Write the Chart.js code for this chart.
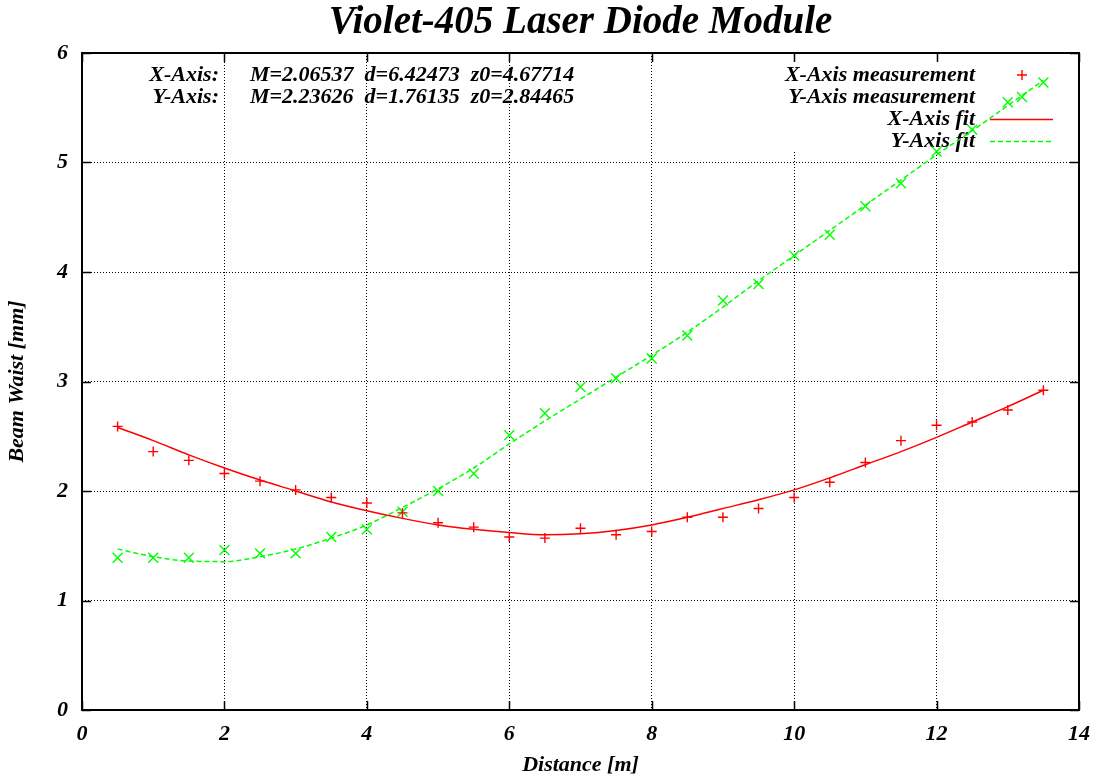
<!DOCTYPE html>
<html>
<head>
<meta charset="utf-8">
<title>Violet-405 Laser Diode Module</title>
<script src="https://cdn.jsdelivr.net/npm/chart.js@4.4.1/dist/chart.umd.min.js"></script>
<style>
  html, body { margin: 0; padding: 0; background: #fff; }
  #wrap { width: 1101px; height: 780px; }
</style>
</head>
<body>
<div id="wrap"><canvas id="beamChart" width="1101" height="780"></canvas></div>
<script>
// measured distances [m]
const distances = [0.5, 1, 1.5, 2, 2.5, 3, 3.5, 4, 4.5, 5, 5.5, 6, 6.5, 7, 7.5, 8, 8.5, 9, 9.5, 10, 10.5, 11, 11.5, 12, 12.5, 13, 13.5];
// beam waist [mm]
const xAxisMeasured = [2.59, 2.36, 2.28, 2.16, 2.09, 2.01, 1.94, 1.89, 1.80, 1.71, 1.67, 1.58, 1.57, 1.66, 1.60, 1.63, 1.76, 1.76, 1.84, 1.94, 2.08, 2.26, 2.46, 2.60, 2.63, 2.74, 2.92];
const yAxisMeasured = [1.39, 1.39, 1.39, 1.46, 1.43, 1.43, 1.58, 1.65, 1.81, 2.00, 2.16, 2.51, 2.71, 2.95, 3.03, 3.21, 3.42, 3.74, 3.89, 4.15, 4.34, 4.60, 4.81, 5.10, 5.30, 5.55, 5.73];

// fit curves
const fitDistances = [0.5, 1, 1.5, 2, 2.5, 3, 3.5, 4, 4.5, 5, 5.5, 6, 6.5, 7, 7.5, 8, 8.5, 9, 9.5, 10, 10.5, 11, 11.5, 12, 12.5, 13, 13.5];
const xAxisFit = [2.58, 2.46, 2.33, 2.21, 2.10, 2.00, 1.90, 1.82, 1.75, 1.69, 1.65, 1.62, 1.60, 1.61, 1.64, 1.69, 1.76, 1.84, 1.92, 2.01, 2.12, 2.24, 2.36, 2.49, 2.63, 2.77, 2.92];
const yAxisFit = [1.47, 1.40, 1.36, 1.355, 1.40, 1.47, 1.57, 1.69, 1.85, 2.02, 2.21, 2.43, 2.64, 2.84, 3.04, 3.24, 3.45, 3.68, 3.92, 4.15, 4.38, 4.61, 4.84, 5.07, 5.29, 5.52, 5.75];

const xTickValues = [0, 2, 4, 6, 8, 10, 12, 14];
const yTickValues = [0, 1, 2, 3, 4, 5, 6];

const fitParams = [
    ['X-Axis:', 'M=2.06537  d=6.42473  z0=4.67714'],
    ['Y-Axis:', 'M=2.23626  d=1.76135  z0=2.84465']
];

const SERIF = "'Liberation Serif', 'Times New Roman', serif";
const font = (size) => ({ family: SERIF, size: size, weight: 'bold', style: 'italic' });
const cssFont = (size) => 'italic bold ' + size + 'px ' + SERIF;

const toPoints = (xs, ys) => xs.map((x, i) => ({ x: x, y: ys[i] }));

// gnuplot-ish decorations: title, frame, inward ticks, key box, fit text
const gnuplotLook = {
    id: 'gnuplotLook',
    beforeDatasetsDraw(chart) {
        const { ctx, chartArea } = chart;
        ctx.save();

        // fit parameter text
        ctx.fillStyle = '#000';
        ctx.font = cssFont(22);
        ctx.textBaseline = 'middle';
        fitParams.forEach((row, i) => {
            const y = chartArea.top + 22 + i * 22;
            ctx.textAlign = 'right';
            ctx.fillText(row[0], chartArea.left + 137, y);
            ctx.textAlign = 'left';
            ctx.fillText(row[1], chartArea.left + 168, y);
        });

        // key with opaque background
        const r = chartArea.right;
        ctx.fillStyle = '#fff';
        ctx.fillRect(r - 300, chartArea.top + 2, 298, 96);
        chart.data.datasets.forEach((ds, i) => {
            const y = chartArea.top + 22 + i * 22;
            ctx.fillStyle = '#000';
            ctx.textAlign = 'right';
            ctx.fillText(ds.label, r - 104, y);
            ctx.strokeStyle = ds.borderColor;
            if (ds.showLine) {
                ctx.lineWidth = ds.borderWidth;
                ctx.setLineDash(ds.borderDash || []);
                ctx.beginPath();
                ctx.moveTo(r - 89, y + 0.5);
                ctx.lineTo(r - 26, y + 0.5);
                ctx.stroke();
                ctx.setLineDash([]);
            } else {
                ctx.lineWidth = ds.pointBorderWidth;
                Chart.helpers.drawPoint(ctx, {
                    pointStyle: ds.pointStyle,
                    radius: ds.pointRadius,
                    borderWidth: ds.pointBorderWidth,
                    rotation: 0
                }, r - 57, y);
            }
        });
        ctx.restore();
    },
    afterDraw(chart) {
        const { ctx, chartArea, scales } = chart;
        ctx.save();

        // title
        ctx.fillStyle = '#000';
        ctx.font = cssFont(39);
        ctx.textAlign = 'center';
        ctx.textBaseline = 'alphabetic';
        ctx.fillText('Violet-405 Laser Diode Module', (chartArea.left + chartArea.right) / 2, 33);

        // ticks pointing inwards, on all four sides
        ctx.strokeStyle = '#000';
        ctx.lineWidth = 1.5;
        ctx.beginPath();
        xTickValues.forEach(v => {
            const px = Math.round(scales.x.getPixelForValue(v)) + 0.5;
            ctx.moveTo(px, chartArea.bottom);
            ctx.lineTo(px, chartArea.bottom - 9);
            ctx.moveTo(px, chartArea.top);
            ctx.lineTo(px, chartArea.top + 9);
        });
        yTickValues.forEach(v => {
            const py = Math.round(scales.y.getPixelForValue(v)) + 0.5;
            ctx.moveTo(chartArea.left, py);
            ctx.lineTo(chartArea.left + 9, py);
            ctx.moveTo(chartArea.right, py);
            ctx.lineTo(chartArea.right - 9, py);
        });
        ctx.stroke();

        // border
        ctx.lineWidth = 2;
        ctx.strokeRect(chartArea.left, chartArea.top, chartArea.right - chartArea.left, chartArea.bottom - chartArea.top);
        ctx.restore();
    }
};

const canvas = document.getElementById('beamChart');
const ctx = canvas.getContext('2d');

new Chart(ctx, {
    type: 'scatter',
    data: {
        datasets: [
            {
                label: 'X-Axis measurement',
                data: toPoints(distances, xAxisMeasured),
                showLine: false,
                pointStyle: 'cross',
                pointRadius: 5,
                pointBorderWidth: 1.4,
                borderColor: '#ff0000',
                backgroundColor: '#ff0000'
            },
            {
                label: 'Y-Axis measurement',
                data: toPoints(distances, yAxisMeasured),
                showLine: false,
                pointStyle: 'crossRot',
                pointRadius: 7,
                pointBorderWidth: 1.4,
                borderColor: '#00ff00',
                backgroundColor: '#00ff00'
            },
            {
                label: 'X-Axis fit',
                data: toPoints(fitDistances, xAxisFit),
                showLine: true,
                pointRadius: 0,
                borderWidth: 1.5,
                borderColor: '#ff0000',
                backgroundColor: '#ff0000',
                cubicInterpolationMode: 'monotone'
            },
            {
                label: 'Y-Axis fit',
                data: toPoints(fitDistances, yAxisFit),
                showLine: true,
                pointRadius: 0,
                borderWidth: 1.5,
                borderDash: [5, 3],
                borderColor: '#00ff00',
                backgroundColor: '#00ff00',
                cubicInterpolationMode: 'monotone'
            }
        ]
    },
    options: {
        responsive: false,
        animation: false,
        devicePixelRatio: 1,
        layout: { padding: { top: 53, right: 22, left: 0, bottom: 0 } },
        plugins: {
            legend: { display: false },
            tooltip: { enabled: false },
            title: { display: false }
        },
        scales: {
            x: {
                type: 'linear',
                min: 0,
                max: 14,
                afterBuildTicks: (scale) => { scale.ticks = xTickValues.map(v => ({ value: v })); },
                afterFit: (scale) => { scale.height = 70; },
                ticks: { font: font(22), color: '#000', padding: 11, maxRotation: 0 },
                grid: { color: '#000', lineWidth: 1, drawTicks: false },
                border: { display: false, dash: [1, 2] },
                title: { display: true, text: 'Distance [m]', font: font(22), color: '#000', padding: { top: 0, bottom: 1 } }
            },
            y: {
                type: 'linear',
                min: 0,
                max: 6,
                afterBuildTicks: (scale) => { scale.ticks = yTickValues.map(v => ({ value: v })); },
                afterFit: (scale) => { scale.width = 82; },
                ticks: { font: font(22), color: '#000', padding: 14 },
                grid: { color: '#000', lineWidth: 1, drawTicks: false },
                border: { display: false, dash: [1, 2] },
                title: { display: true, text: 'Beam Waist [mm]', font: font(22), color: '#000', padding: { top: 4, bottom: 0 } }
            }
        }
    },
    plugins: [gnuplotLook]
});
</script>
</body>
</html>
